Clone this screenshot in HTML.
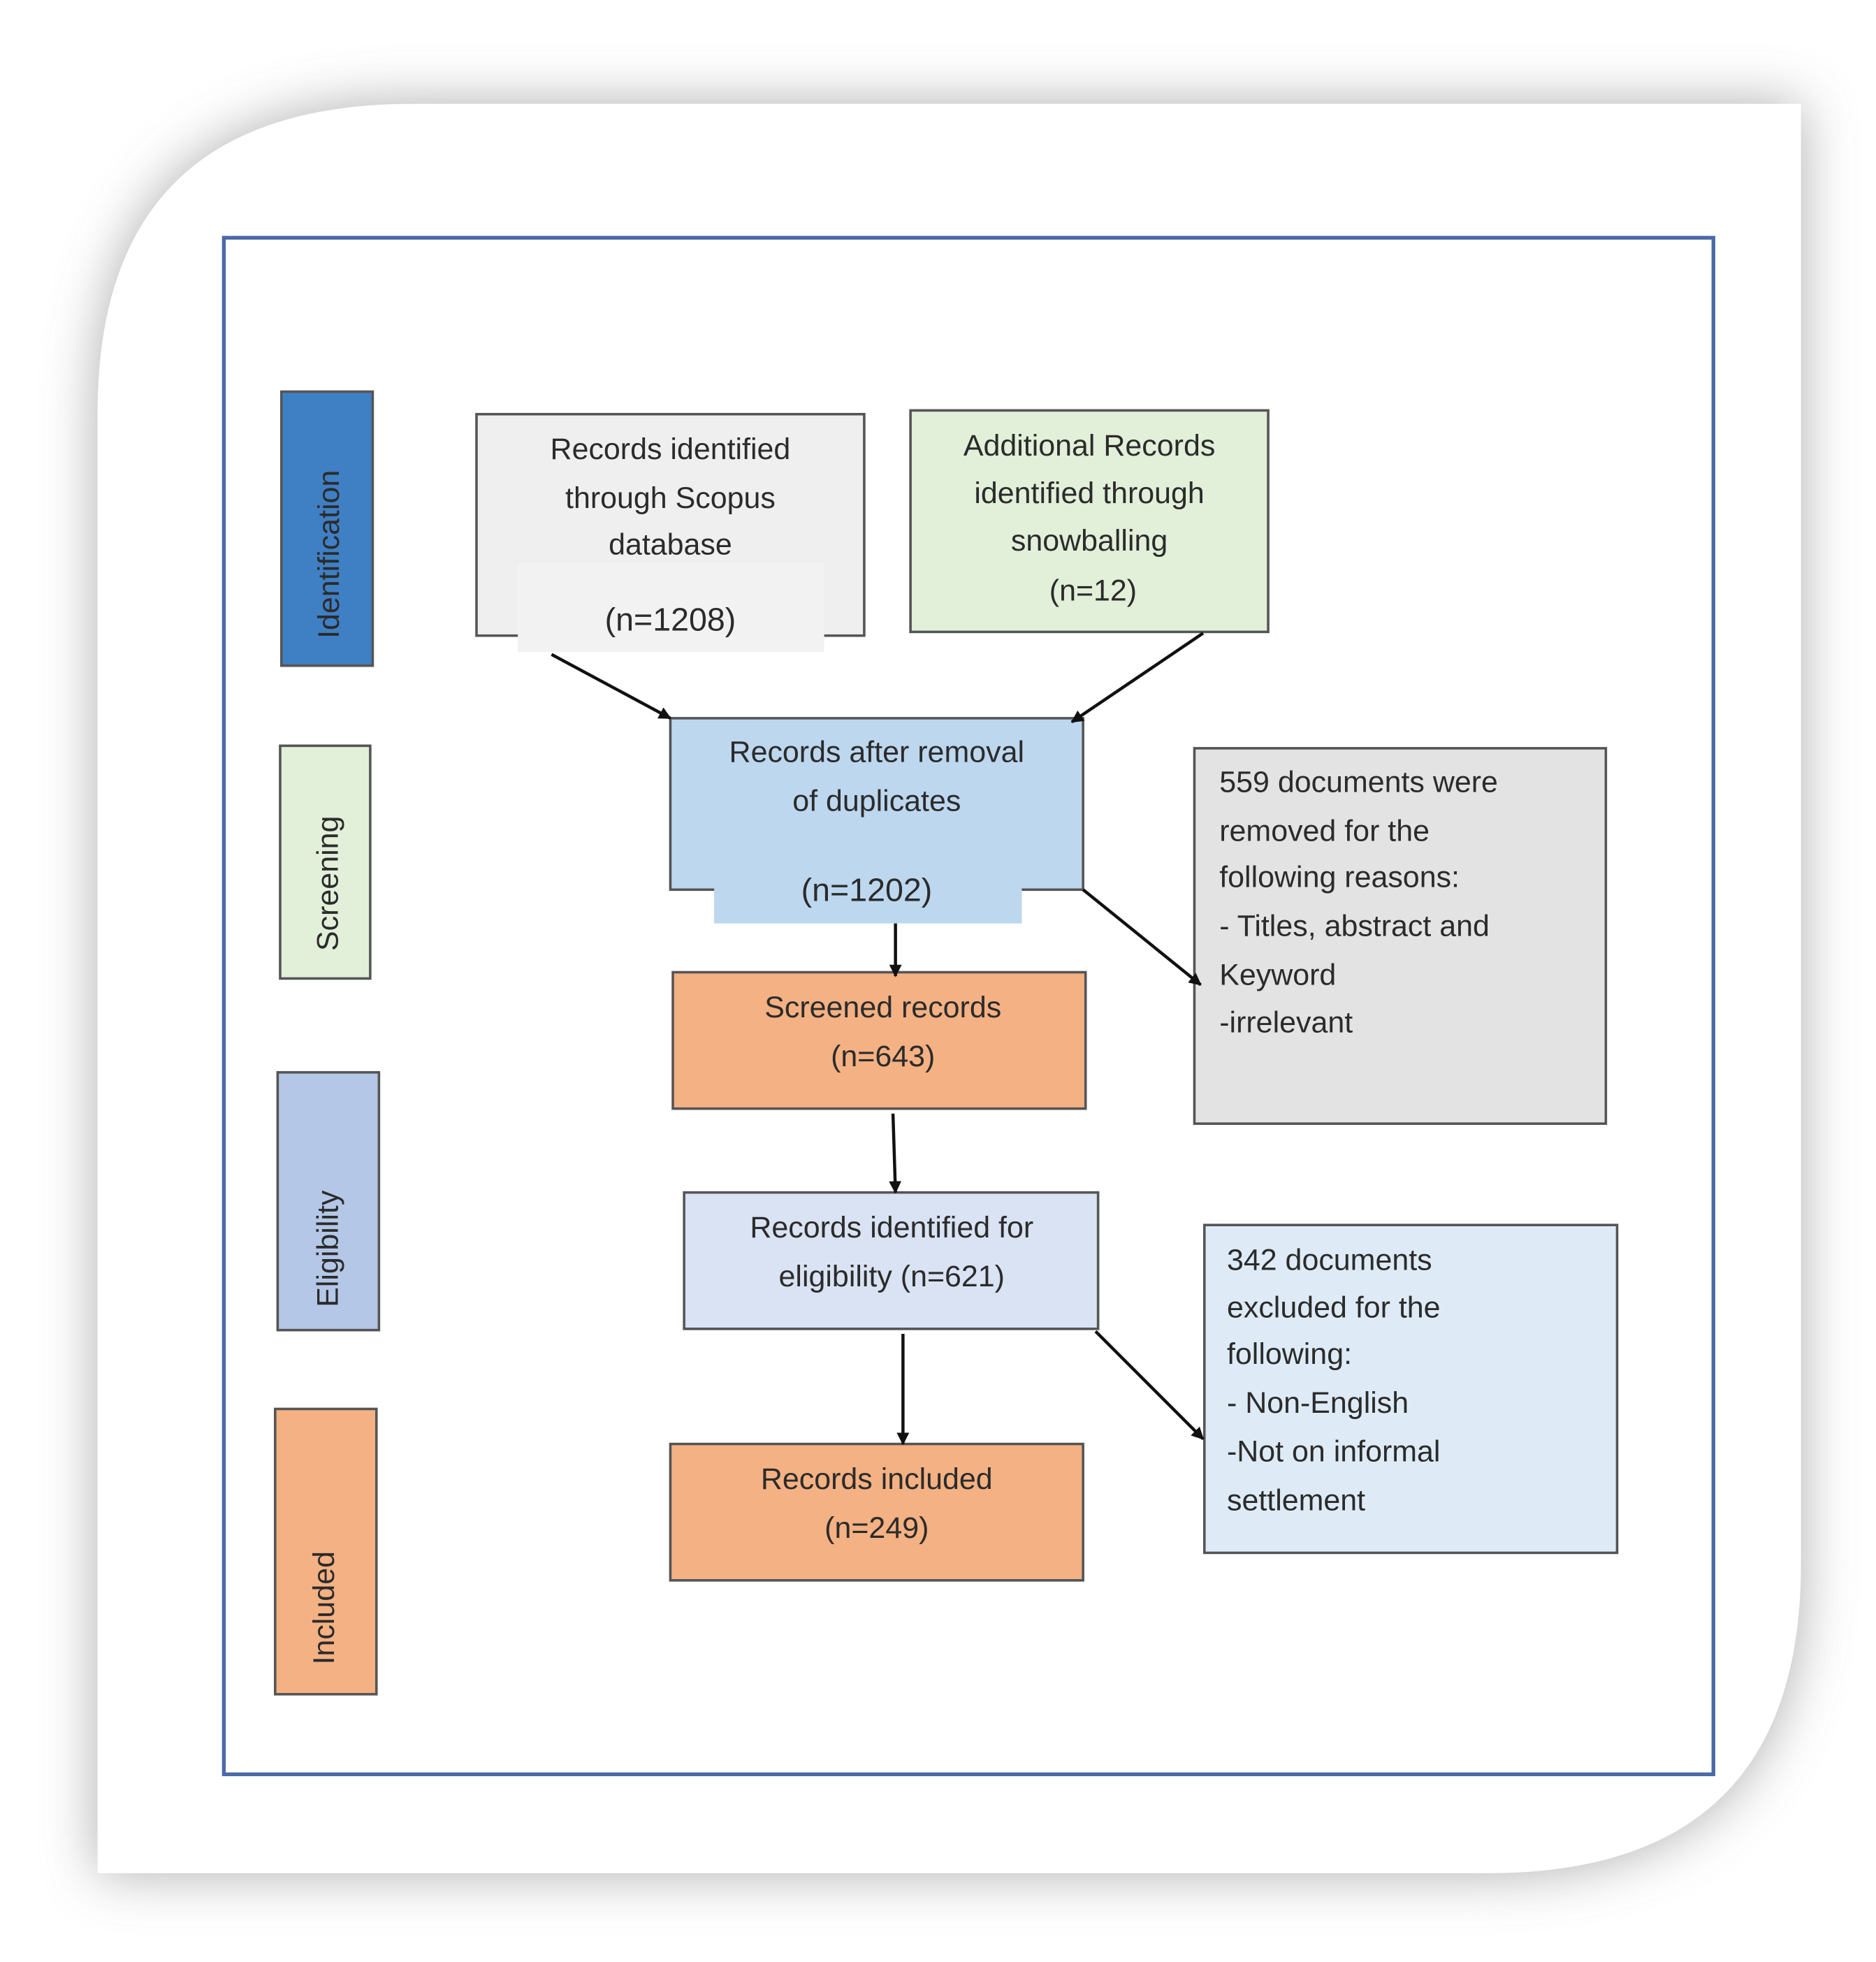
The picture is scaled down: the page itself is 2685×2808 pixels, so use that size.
<!DOCTYPE html>
<html><head><meta charset="utf-8"><style>
html,body{margin:0;padding:0;background:#fff}
svg{display:block}
text{font-family:"Liberation Sans",sans-serif;fill:#2b2b2b;font-size:24px}
</style></head><body>
<svg width="2685" height="2808" viewBox="0 0 1500 1568" preserveAspectRatio="none" xmlns="http://www.w3.org/2000/svg">
<defs>
<filter id="sh" x="-10%" y="-10%" width="120%" height="120%"><feGaussianBlur stdDeviation="22"/></filter>
<marker id="ar" markerWidth="10" markerHeight="10" refX="9" refY="5" orient="auto" markerUnits="userSpaceOnUse"><path d="M0,0 L10,5 L0,10 z" fill="#111"/></marker>
</defs>
<rect width="1500" height="1568" fill="#fff"/>
<path d="M330,83 H1440 V1250 Q1440,1497 1190,1497 H78 V330 Q78,83 330,83 Z" fill="#9a9a9a" filter="url(#sh)" opacity="0.8"/>
<path d="M330,83 H1440 V1250 Q1440,1497 1190,1497 H78 V330 Q78,83 330,83 Z" fill="#fff"/>
<rect x="179" y="190" width="1191" height="1228" fill="none" stroke="#4a6aa8" stroke-width="3"/>
<g stroke="#555" stroke-width="2">
<rect x="225" y="313" width="73" height="219" fill="#3f7fc4"/>
<rect x="224" y="596" width="72" height="186" fill="#e2efd9"/>
<rect x="222" y="857" width="81" height="206" fill="#b4c7e7"/>
<rect x="220" y="1126" width="81" height="228" fill="#f4b183"/>
<rect x="381" y="331" width="310" height="177" fill="#efefef"/>
<rect x="728" y="328" width="286" height="177" fill="#e2efd9"/>
<rect x="536" y="574" width="330" height="137" fill="#bdd7ee"/>
<rect x="955" y="598" width="329" height="300" fill="#e3e3e3"/>
<rect x="538" y="777" width="330" height="109" fill="#f4b183"/>
<rect x="547" y="953" width="331" height="109" fill="#dae3f3"/>
<rect x="963" y="979" width="330" height="262" fill="#deebf7"/>
<rect x="536" y="1154" width="330" height="109" fill="#f4b183"/>
</g>
<rect x="414" y="450" width="245" height="71" fill="#f2f2f2"/>
<rect x="571" y="700" width="246" height="38" fill="#bdd7ee"/>
<g stroke="#111" stroke-width="2.5" marker-end="url(#ar)">
<line x1="441" y1="523" x2="536" y2="574"/>
<line x1="962" y1="506" x2="857" y2="577"/>
<line x1="716" y1="738" x2="716" y2="780"/>
<line x1="866" y1="711" x2="960" y2="787"/>
<line x1="714" y1="890" x2="716" y2="953"/>
<line x1="722" y1="1066" x2="722" y2="1154"/>
<line x1="876" y1="1064" x2="962" y2="1150"/>
</g>
<g text-anchor="middle">
<text transform="translate(271,443) rotate(-90)" style="font-size:24px">Identification</text>
<text transform="translate(270,706) rotate(-90)">Screening</text>
<text transform="translate(270,998) rotate(-90)">Eligibility</text>
<text transform="translate(267,1285) rotate(-90)">Included</text>
<text x="536" y="367">Records identified</text>
<text x="536" y="406">through Scopus</text>
<text x="536" y="443">database</text>
<text x="536" y="504" style="font-size:26px">(n=1208)</text>
<text x="871" y="364">Additional Records</text>
<text x="871" y="402">identified through</text>
<text x="871" y="440">snowballing</text>
<text x="874" y="480">(n=12)</text>
<text x="701" y="609">Records after removal</text>
<text x="701" y="648">of duplicates</text>
<text x="693" y="720" style="font-size:26px">(n=1202)</text>
<text x="706" y="813">Screened records</text>
<text x="706" y="852">(n=643)</text>
<text x="713" y="989">Records identified for</text>
<text x="713" y="1028">eligibility (n=621)</text>
<text x="701" y="1190">Records included</text>
<text x="701" y="1229">(n=249)</text>
</g>
<g>
<text x="975" y="633">559 documents were</text>
<text x="975" y="672">removed for the</text>
<text x="975" y="709">following reasons:</text>
<text x="975" y="748">- Titles, abstract and</text>
<text x="975" y="787">Keyword</text>
<text x="975" y="825">-irrelevant</text>
<text x="981" y="1015">342 documents</text>
<text x="981" y="1053">excluded for the</text>
<text x="981" y="1090">following:</text>
<text x="981" y="1129">- Non-English</text>
<text x="981" y="1168">-Not on informal</text>
<text x="981" y="1207">settlement</text>
</g>
</svg>
</body></html>
